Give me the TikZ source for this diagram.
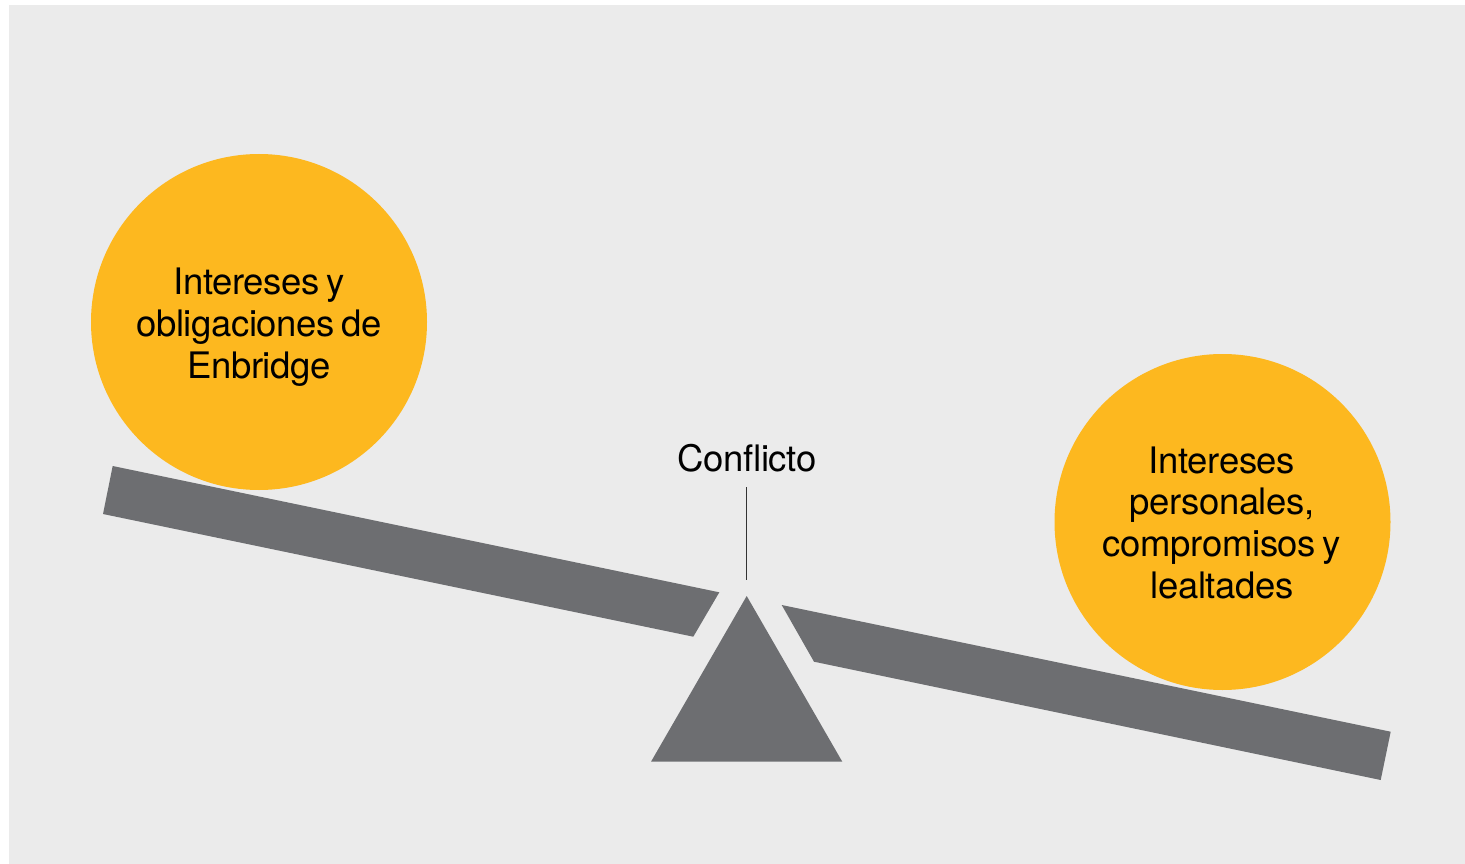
\documentclass[tikz,border=0pt]{standalone}
\usepackage{fontspec}
\setmainfont{TeX Gyre Heros}[LetterSpace=-1,WordSpace=0.7]
\definecolor{bgc}{HTML}{EBEBEB}
\definecolor{orc}{HTML}{FDB81F}
\definecolor{grc}{HTML}{6D6E71}
\begin{document}
\begin{tikzpicture}[x=1pt,y=-1pt,
  ball/.style={circle,fill=orc,minimum size=336pt,inner sep=0pt},
  lbl/.style={font=\fontsize{36.5pt}{41.6pt}\selectfont,align=center,inner sep=0pt,text=black},
  part/.style={fill=grc,draw=none}]
\useasboundingbox (0,0) rectangle (1465,864);
\fill[white] (0,0) rectangle (1465,864);
\fill[bgc] (9,5) rectangle (1465,864);
% circles
\node[ball] (lc) at (259,322) {};
\node[ball] (rc) at (1222.5,522) {};
\node[lbl,anchor=north] (lt) at (259,268) {Intereses y\\obligaciones de\\Enbridge};
\node[lbl,anchor=north] (rt) at (1222,446.5) {Intereses\\personales,\\compromisos y\\lealtades};
% planks
\fill[part] (112.7,466) -- (719.3,592.3) -- (693.3,636.7) -- (103,514) -- cycle;
\fill[part] (781.7,605) -- (1390.7,731.7) -- (1380.7,780) -- (814,661.7) -- cycle;
% fulcrum
\fill[part] (746.7,596) -- (842.3,761.7) -- (651,761.7) -- cycle;
% label
\node[lbl,anchor=base] (cf) at (747,471.7) {Conflicto};
\coordinate (ctop) at (746.7,487);
\coordinate (cbot) at (746.7,580);
\draw[line width=1.3pt,black!80] (ctop) -- (cbot);
\end{tikzpicture}
\end{document}
